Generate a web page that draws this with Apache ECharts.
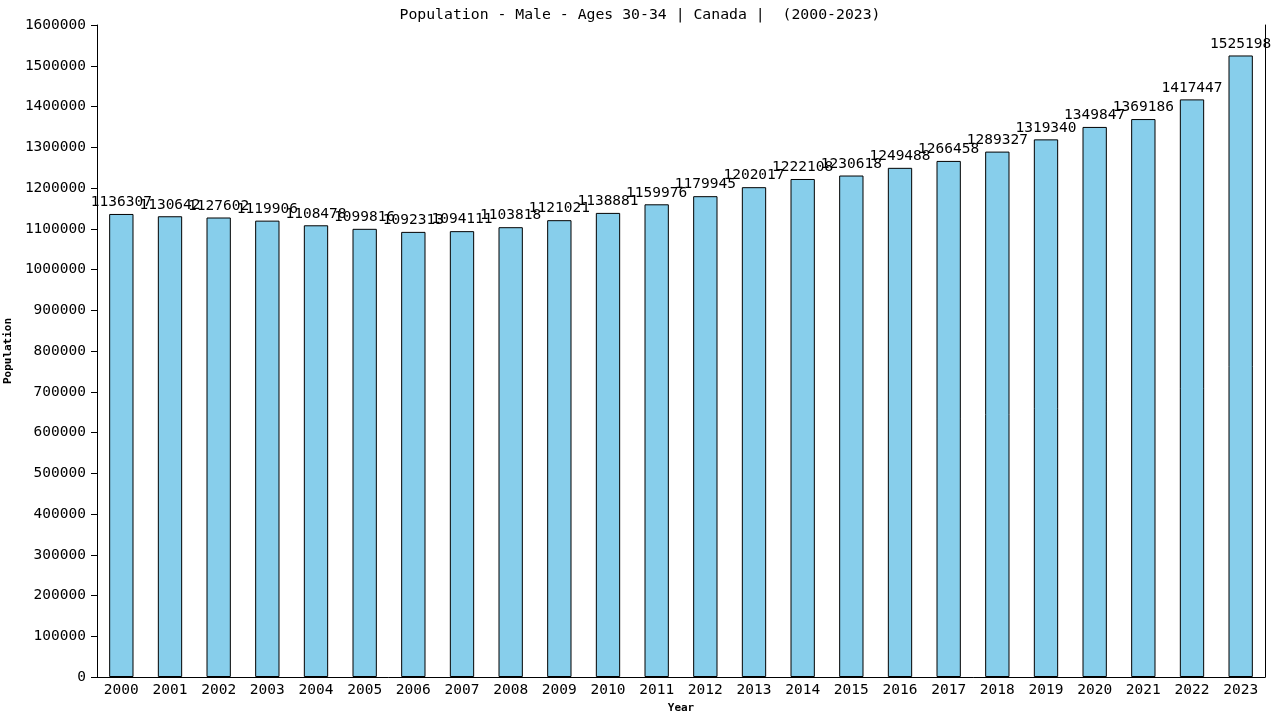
<!DOCTYPE html>
<html>
<head>
<meta charset="utf-8">
<script src="https://cdn.jsdelivr.net/npm/echarts@6/dist/echarts.min.js"></script>
<style>
  html, body { margin: 0; padding: 0; background: #fff; }
  #chart { width: 1280px; height: 720px; }
</style>
</head>
<body>
<div id="chart"></div>
<script>
// data
const years = ['2000', '2001', '2002', '2003', '2004', '2005', '2006', '2007', '2008', '2009', '2010', '2011',
  '2012', '2013', '2014', '2015', '2016', '2017', '2018', '2019', '2020', '2021', '2022', '2023'];
const population = [1136307, 1130642, 1127602, 1119906, 1108478, 1099816, 1092313, 1094111, 1103818, 1121021,
  1138881, 1159976, 1179945, 1202017, 1222108, 1230618, 1249488, 1266458, 1289327, 1319340, 1349847, 1369186,
  1417447, 1525198];
const yTicks = { min: 0, max: 1600000, step: 100000 };

const mono = 'DejaVu Sans Mono';
const fs = 14.5;

const chart = echarts.init(document.getElementById('chart'));
chart.setOption({
  animation: false,
  backgroundColor: '#ffffff',
  title: {
    text: 'Population - Male - Ages 30-34 | Canada |  (2000-2023)',
    left: 'center',
    top: 3,
    textStyle: { fontFamily: mono, fontSize: 14.8, fontWeight: 'normal', color: '#000' }
  },
  grid: { left: 97, right: 15, top: 25, bottom: 43, containLabel: false, outerBoundsMode: 'none' },
  xAxis: {
    type: 'category',
    data: years,
    name: 'Year',
    nameLocation: 'middle',
    nameGap: 26,
    nameTextStyle: { fontFamily: mono, fontSize: 11, fontWeight: 'bold', color: '#000' },
    axisLine: { lineStyle: { color: '#000', width: 1 } },
    axisTick: { show: false },
    axisLabel: { fontFamily: mono, fontSize: fs, color: '#000', margin: 6, interval: 0 }
  },
  yAxis: [{
    type: 'value',
    min: yTicks.min,
    max: yTicks.max,
    interval: yTicks.step,
    name: 'Population',
    nameLocation: 'middle',
    nameGap: 79,
    nameTextStyle: { fontFamily: mono, fontSize: 11, fontWeight: 'bold', color: '#000' },
    axisLine: { show: true, lineStyle: { color: '#000', width: 1 } },
    axisTick: { show: true, length: 6, lineStyle: { color: '#000' } },
    axisLabel: { fontFamily: mono, fontSize: fs, color: '#000', margin: 11, formatter: v => String(v) },
    splitLine: { show: false }
  }, {
    type: 'value',
    position: 'right',
    min: yTicks.min,
    max: yTicks.max,
    interval: yTicks.step,
    axisLine: { show: true, lineStyle: { color: '#000', width: 1 } },
    axisTick: { show: false },
    axisLabel: { show: false },
    splitLine: { show: false }
  }],
  series: [{
    type: 'bar',
    data: population,
    barWidth: '50%',
    itemStyle: { color: '#87ceeb', borderColor: '#000', borderWidth: 1 },
    label: {
      show: true,
      position: 'top',
      distance: 4,
      fontFamily: mono,
      fontSize: fs,
      color: '#000'
    }
  }]
});
</script>
</body>
</html>
